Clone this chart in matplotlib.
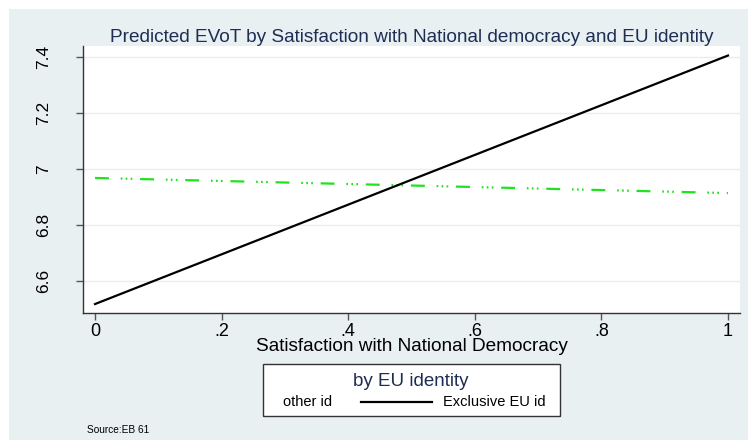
import matplotlib
matplotlib.use("Agg")
import matplotlib.pyplot as plt
from matplotlib.patches import Rectangle
from matplotlib.lines import Line2D

# predicted values at the ends of the satisfaction scale
satisfaction = [0, 1]
evot_exclusive_eu = [6.518, 7.405]
evot_other_id = [6.968, 6.914]

x_ticks = [0, 0.2, 0.4, 0.6, 0.8, 1]
x_tick_labels = ["0", ".2", ".4", ".6", ".8", "1"]
y_ticks = [6.6, 6.8, 7.0, 7.2, 7.4]
y_tick_labels = ["6.6", "6.8", "7", "7.2", "7.4"]

bg_color = "#e9f0f2"
navy = "#1f2d55"

plt.rcParams["font.family"] = ["Liberation Sans", "DejaVu Sans"]
plt.rcParams["lines.scale_dashes"] = False

W, H = 748, 442
fig = plt.figure(figsize=(W / 100, H / 100), dpi=100)
fig.patch.set_facecolor("white")

# graph region
fig.patches.append(Rectangle((9 / W, 1 - 440 / H), 739 / W, 431 / H,
                             transform=fig.transFigure, facecolor=bg_color,
                             edgecolor="none", zorder=-5))

ax = fig.add_axes([83 / W, 1 - 313 / H, (740 - 83) / W, (313 - 46) / H])
ax.set_facecolor("white")

ax.plot(satisfaction, evot_other_id, color="#1ee31e", linewidth=1.6,
        dashes=(10, 8.5, 1.2, 2.4, 1.2, 2.4, 1.2, 5.6), zorder=3)
ax.plot(satisfaction, evot_exclusive_eu, color="black", linewidth=1.6, zorder=4)

ax.set_xlim(-0.019, 1.019)
ax.set_ylim(6.486, 7.439)
ax.set_xticks(x_ticks)
ax.set_xticklabels(x_tick_labels)
ax.set_yticks(y_ticks)
ax.set_yticklabels(y_tick_labels, rotation=90, va="center")
ax.yaxis.grid(True, color="#e6eef0", linewidth=1.0)
ax.set_axisbelow(True)

for side in ["top", "right"]:
    ax.spines[side].set_visible(False)
for side in ["left", "bottom"]:
    ax.spines[side].set_color("#333333")
    ax.spines[side].set_linewidth(1.0)
ax.tick_params(axis="both", direction="out", length=5, width=1.0,
               color="#555555", labelsize=13)
ax.tick_params(axis="x", pad=2)
ax.tick_params(axis="y", pad=18, labelsize=12.5)

ax.set_xlabel("Satisfaction with National Democracy", fontsize=13.7, labelpad=-1)
ax.set_title("Predicted EVoT by Satisfaction with National democracy and EU identity",
             fontsize=13.7, color=navy, pad=1)

# legend box
fig.patches.append(Rectangle((263 / W, 1 - 416 / H), (560 - 263) / W, (416 - 364) / H,
                             transform=fig.transFigure, facecolor="white",
                             edgecolor="#333333", linewidth=1.0, zorder=2))
fig.text(411 / W, 1 - 381 / H, "by EU identity", fontsize=13.5, color=navy,
         ha="center", va="center", zorder=3)
fig.text(283 / W, 1 - 402 / H, "other id", fontsize=10.5, ha="left", va="center", zorder=3)
fig.lines.append(Line2D([361 / W, 432 / W], [1 - 402 / H, 1 - 402 / H],
                        transform=fig.transFigure, color="black", linewidth=1.6, zorder=3))
fig.text(443 / W, 1 - 402 / H, "Exclusive EU id", fontsize=10.5, ha="left", va="center", zorder=3)

fig.text(87 / W, 1 - 430 / H, "Source:EB 61", fontsize=7.3, ha="left", va="center")

fig.savefig("out.png", dpi=100, facecolor=fig.get_facecolor())
